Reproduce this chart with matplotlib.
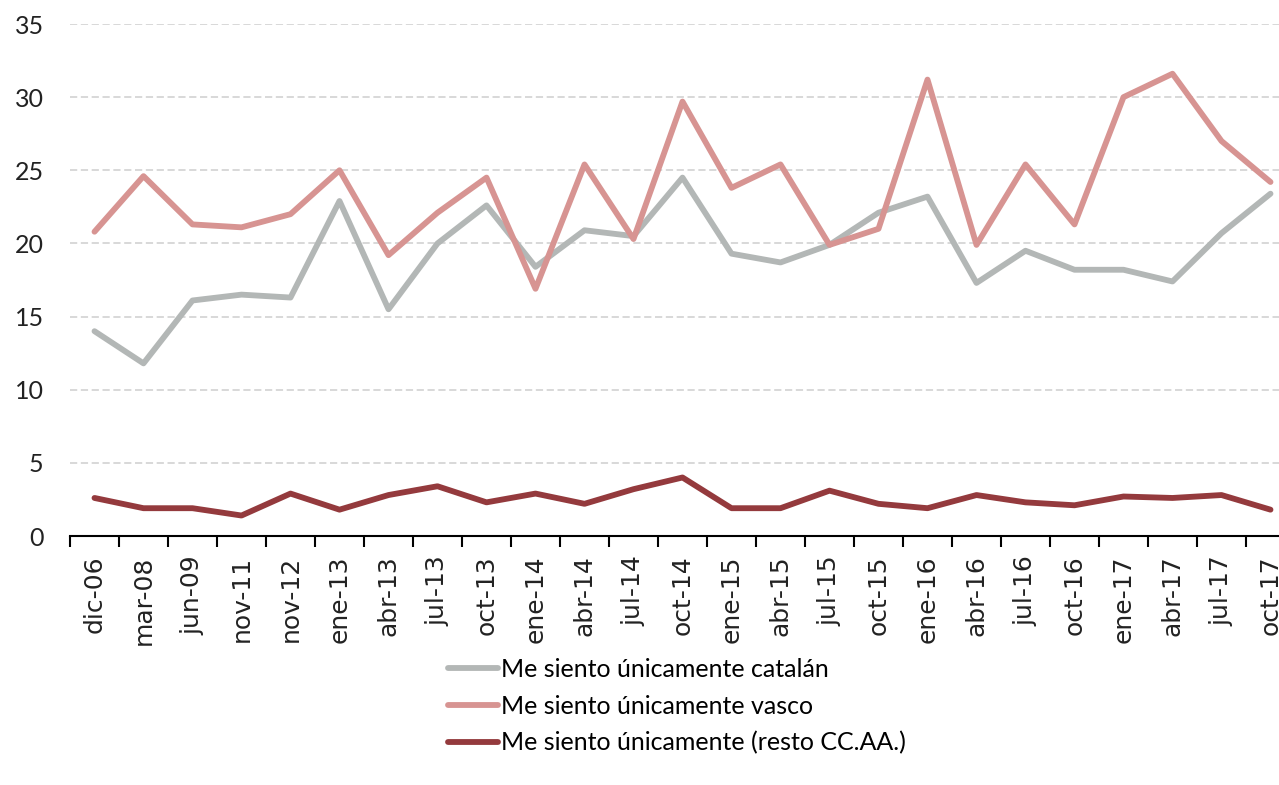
import matplotlib
matplotlib.use("Agg")
import matplotlib.pyplot as plt
import numpy as np

plt.rcParams['font.family'] = ['Lato', 'DejaVu Sans']

# survey waves
fechas = ['dic-06', 'mar-08', 'jun-09', 'nov-11', 'nov-12', 'ene-13', 'abr-13',
          'jul-13', 'oct-13', 'ene-14', 'abr-14', 'jul-14', 'oct-14', 'ene-15',
          'abr-15', 'jul-15', 'oct-15', 'ene-16', 'abr-16', 'jul-16', 'oct-16',
          'ene-17', 'abr-17', 'jul-17', 'oct-17']

catalan = [14.0, 11.8, 16.1, 16.5, 16.3, 22.9, 15.5, 20.0, 22.6, 18.4, 20.9, 20.5,
           24.5, 19.3, 18.7, 19.9, 22.1, 23.2, 17.3, 19.5, 18.2, 18.2, 17.4, 20.7, 23.4]
vasco = [20.8, 24.6, 21.3, 21.1, 22.0, 25.0, 19.2, 22.1, 24.5, 16.9, 25.4, 20.3,
         29.7, 23.8, 25.4, 19.9, 21.0, 31.2, 19.9, 25.4, 21.3, 30.0, 31.6, 27.0, 24.2]
resto = [2.6, 1.9, 1.9, 1.4, 2.9, 1.8, 2.8, 3.4, 2.3, 2.9, 2.2, 3.2,
         4.0, 1.9, 1.9, 3.1, 2.2, 1.9, 2.8, 2.3, 2.1, 2.7, 2.6, 2.8, 1.8]

series = [
    ('Me siento únicamente catalán', catalan, '#b3b7b6'),
    ('Me siento únicamente vasco', vasco, '#d79492'),
    ('Me siento únicamente (resto CC.AA.)', resto, '#943a3d'),
]

fig = plt.figure(figsize=(12.79, 7.85), dpi=100)
ax = fig.add_axes([70 / 1279, 1 - 536 / 785, 1225 / 1279, 512 / 785])

x = np.arange(len(fechas))
for nombre, vals, color in series:
    ax.plot(x, vals, color=color, linewidth=4.2, label=nombre,
            solid_capstyle='round', solid_joinstyle='round', zorder=3)

ax.set_xlim(-0.5, len(fechas) - 0.5)
ax.set_ylim(0, 35)
ax.set_yticks(range(0, 36, 5))
for v in range(5, 36, 5):
    ax.axhline(v, color='#d6d6d6', linewidth=1.3, linestyle=(0, (4, 2)), zorder=1)

ax.set_xticks(x)
ax.set_xticklabels(fechas, rotation=90, fontsize=18, family='DejaVu Sans', color='#222222')
ax.set_xticks(np.arange(-0.5, len(fechas), 1), minor=True)
ax.tick_params(axis='x', which='major', length=0, pad=14)
ax.tick_params(axis='x', which='minor', length=8, width=1.5, color='black')
ax.tick_params(axis='y', length=0, pad=19, labelsize=18, labelcolor='#222222')

for s in ['top', 'right', 'left']:
    ax.spines[s].set_visible(False)
ax.spines['bottom'].set_linewidth(1.5)
ax.spines['bottom'].set_zorder(4)

fig.legend(loc='upper left', bbox_to_anchor=(448 / 1279, 1 - 658 / 785),
           frameon=False, fontsize=18, handlelength=2.0, handletextpad=0.12,
           labelspacing=0.55, borderaxespad=0, borderpad=0)

fig.savefig('out.png', dpi=100)
